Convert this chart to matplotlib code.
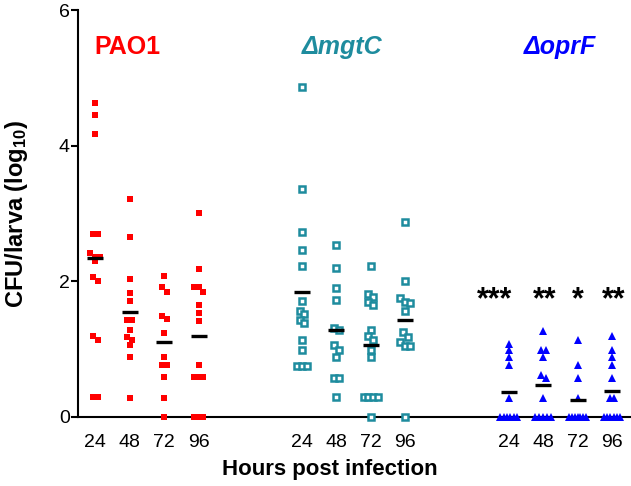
import matplotlib
matplotlib.use("Agg")
import matplotlib.pyplot as plt
import numpy as np

plt.rcParams['font.family'] = ['Liberation Sans', 'DejaVu Sans']
plt.rcParams['mathtext.fontset'] = 'custom'
plt.rcParams['mathtext.rm'] = 'Liberation Sans:bold'
plt.rcParams['mathtext.bf'] = 'Liberation Sans:bold'
plt.rcParams['mathtext.default'] = 'rm'

# strains and time points
strains = ['PAO1', 'ΔmgtC', 'ΔoprF']
hours = [24, 48, 72, 96]
stars = ['***', '**', '*', '**']

# log10 CFU per larva
pao1_24 = [4.63, 4.45, 4.17, 2.70, 2.70, 2.42, 2.36, 2.36, 2.30, 2.07, 2.00, 1.20, 1.14, 0.30, 0.30]
pao1_48 = [3.21, 2.65, 2.03, 1.83, 1.71, 1.43, 1.43, 1.29, 1.18, 1.14, 1.06, 0.89, 0.28]
pao1_72 = [2.08, 1.92, 1.85, 1.49, 1.44, 1.24, 0.89, 0.76, 0.76, 0.59, 0.28, 0.0]
pao1_96 = [3.01, 2.19, 1.92, 1.92, 1.85, 1.65, 1.53, 1.41, 0.76, 0.59, 0.59, 0.59, 0.0, 0.0, 0.0]

mgtc_24 = [4.87, 3.36, 2.73, 2.47, 2.22, 1.71, 1.57, 1.52, 1.43, 1.39, 1.14, 0.99, 0.75, 0.75, 0.75]
mgtc_48 = [2.53, 2.20, 1.90, 1.73, 1.31, 1.29, 1.06, 0.99, 0.88, 0.58, 0.58, 0.29]
mgtc_72 = [2.23, 1.82, 1.77, 1.70, 1.65, 1.29, 1.20, 1.14, 0.99, 0.88, 0.29, 0.29, 0.29, 0.29, 0.0]
mgtc_96 = [2.87, 2.00, 1.76, 1.70, 1.68, 1.57, 1.26, 1.18, 1.11, 1.05, 1.05, 0.0]

oprf_24 = [1.08, 0.99, 0.88, 0.76, 0.28, 0.0, 0.0, 0.0, 0.0, 0.0, 0.0]
oprf_48 = [1.27, 0.99, 0.99, 0.88, 0.62, 0.58, 0.28, 0.0, 0.0, 0.0, 0.0, 0.0]
oprf_72 = [1.13, 0.76, 0.58, 0.28, 0.0, 0.0, 0.0, 0.0, 0.0, 0.0, 0.0]
oprf_96 = [1.19, 0.99, 0.88, 0.76, 0.58, 0.28, 0.28, 0.0, 0.0, 0.0, 0.0, 0.0, 0.0]

groups = [
    [pao1_24, pao1_48, pao1_72, pao1_96],
    [mgtc_24, mgtc_48, mgtc_72, mgtc_96],
    [oprf_24, oprf_48, oprf_72, oprf_96],
]

colors = ['#ff0000', '#1e8c9e', '#0000ff']
RED, TEAL, BLUE = colors


def spread(vals, center, thr=0.09, step=0.14, maxw=0.48):
    # simple column scatter: points in the same row get spread sideways
    vals = sorted(vals, reverse=True)
    rows = []
    for v in vals:
        if rows and abs(rows[-1][0] - v) < thr:
            rows[-1].append(v)
        else:
            rows.append([v])
    xs, ys = [], []
    for r in rows:
        k = len(r)
        s = step if k < 2 else min(step, maxw / (k - 1))
        for i, v in enumerate(r):
            xs.append(center + (i - (k - 1) / 2) * s)
            ys.append(v)
    return xs, ys


fig = plt.figure(figsize=(6.31, 4.86), dpi=100)
ax = fig.add_axes([0.1236, 0.142, 0.8764, 0.837])

positions = []
for g, series in enumerate(groups):
    for t, vals in enumerate(series):
        pos = g * 6 + t
        positions.append(pos)
        xs, ys = spread(vals, pos)
        if g == 0:
            ax.plot(xs, ys, 's', color=RED, ms=5.0, mew=0, clip_on=False, zorder=3)
        elif g == 1:
            ax.plot(xs, ys, 's', mec=TEAL, mfc='white', ms=4.6, mew=1.8,
                    clip_on=False, zorder=3)
        else:
            ax.plot(xs, ys, '^', color=BLUE, ms=6.0, mew=0, clip_on=False, zorder=3)
        m = np.mean(vals)
        ax.plot([pos - 0.23, pos + 0.23], [m, m], color='black', lw=2.4,
                solid_capstyle='butt', zorder=4)

# group titles
title_x = [0.93, 7.16, 13.5]
for s, x, c in zip(strains, title_x, colors):
    style = 'normal' if s == 'PAO1' else 'italic'
    ax.text(x, 5.46, s, color=c, fontsize=18, fontweight='bold', fontstyle=style,
            ha='center', va='center')

# significance stars for the oprF group
star_x = [11.6, 13.04, 14.0, 15.04]
for s, x in zip(stars, star_x):
    ax.text(x, 1.6, s, fontsize=22, fontweight='bold', ha='center', va='baseline')

ax.set_xlim(-0.5, 15.55)
ax.set_ylim(0, 6)
ax.set_yticks([0, 2, 4, 6])
ax.set_xticks(positions)
ax.set_xticklabels([str(h) for h in hours] * 3)
ax.tick_params(axis='x', length=0, pad=12, labelsize=14)
ax.tick_params(axis='y', length=5, width=1.5, pad=1, labelsize=14)

for side in ['top', 'right']:
    ax.spines[side].set_visible(False)
for side in ['left', 'bottom']:
    ax.spines[side].set_linewidth(1.5)

ax.set_ylabel('CFU/larva (log$_{10}$)', fontsize=17, fontweight='bold')
ax.yaxis.set_label_coords(-0.087, 0.5)
ax.text(0.455, -0.13, 'Hours post infection', transform=ax.transAxes,
        fontsize=16, fontweight='bold', ha='center', va='center')

fig.savefig('out.png', dpi=100)
